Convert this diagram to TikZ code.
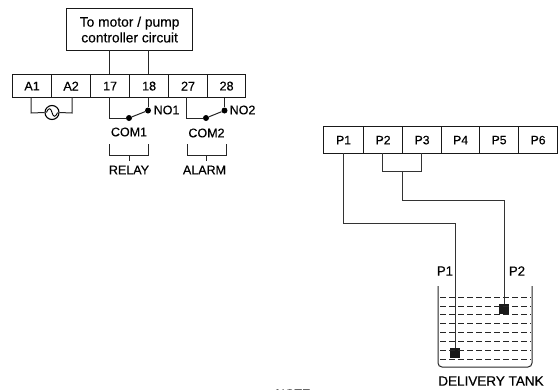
\documentclass[tikz,border=0pt]{standalone}
\usepackage{fontspec}
\setmainfont{Liberation Sans}[RawFeature={embolden=0.35}]
\begin{document}
\begin{tikzpicture}[x=1pt,y=-1pt,
  wire/.style={line width=1pt,draw=black!85},
  thinwire/.style={line width=0.8pt,draw=black!80},
  boxline/.style={draw=black!90,line width=1.2pt},
  term/.style={boxline,minimum height=23pt,inner sep=0pt,anchor=north west,font=\fontsize{12.6}{14}\selectfont},
  lab/.style={inner sep=0pt,font=\fontsize{12.5}{14}\selectfont},
  dotn/.style={circle,fill=black,inner sep=0pt,minimum size=6pt},
  sens/.style={rectangle,fill=black!90,inner sep=0pt,minimum size=10pt},
  tankline/.style={line width=0.7pt,draw=black!85,dash pattern=on 6pt off 3pt}]
\useasboundingbox (0,0) rectangle (558,389);
\clip (0,0) rectangle (558,389);
% controller
\node[boxline,minimum width=126pt,minimum height=42pt,inner sep=0pt,align=center,anchor=north west,font=\fontsize{13.8}{15.7}\selectfont] (ctrl) at (66,8) {To motor / pump\\controller circuit};
% terminals top-left
\node[term,minimum width=39pt] (A1) at (12,74) {A1};
\node[term,minimum width=39pt] (A2) at (51,74) {A2};
\node[term,minimum width=39pt] (t17) at (90,74) {17};
\node[term,minimum width=39pt] (t18) at (129,74) {18};
\node[term,minimum width=39pt] (t27) at (168,74) {27};
\node[term,minimum width=38pt] (t28) at (207,74) {28};
\coordinate (c17) at (109,50); \coordinate (c18) at (148,50);
\draw[wire] (c17) -- (109,74);
\draw[wire] (c18) -- (148,74);
% AC source
\node[circle,draw=black,line width=1.1pt,minimum size=14pt,inner sep=0pt] (ac) at (52,112.5) {};
\draw[line width=0.9pt] (46.5,112.5) .. controls (49,106.5) and (51,108.5) .. (52,112.5) .. controls (53,116.5) and (55,118.5) .. (57.5,112.5);
\draw[wire] (31,97) -- (31,113) -- (ac.west);
\draw[wire] (72,97) -- (72,113) -- (ac.east);
% relay
\node[dotn] (n1) at (148,110.5) {};
\node[dotn] (c1) at (129,118) {};
\draw[wire] (109,97) -- (109,118) -- (c1);
\draw[wire] (t18.south -| n1) -- (n1);
\draw[wire] (c1) -- (n1);
\node[dotn] (n2) at (224.5,110.5) {};
\node[dotn] (c2) at (206,118) {};
\draw[wire] (186,97) -- (186,118) -- (c2);
\draw[wire] (t28.south -| n2) -- (n2);
\draw[wire] (c2) -- (n2);
\node[lab,anchor=west] (no1) at (153.5,110) {NO1};
\node[lab,anchor=west] (no2) at (229.5,110) {NO2};
\node[lab] (com1) at (129,132) {COM1};
\node[lab] (com2) at (206.5,133) {COM2};
\draw[wire] (109,144) -- (109,155) -- (148,155) -- (148,144);
\draw[wire] (129,155) -- (129,161);
\draw[wire] (187,144) -- (187,155) -- (226,155) -- (226,144);
\draw[wire] (206,155) -- (206,161);
\node[lab] (relay) at (129,170) {RELAY};
\node[lab] (alarm) at (204.5,170) {ALARM};
% terminals right
\foreach \n/\x/\w in {1/323/40,2/363/39,3/402/39,4/441/38,5/479/39,6/518/39}{
  \node[term,minimum width=\w pt,minimum height=27pt,font=\fontsize{12.2}{14}\selectfont] (P\n) at (\x,126) {P\n};
}
\draw[thinwire] (343,153) -- (343,223) -- (455,223) -- (455,353);
\draw[thinwire] (382,153) -- (382,171) -- (421,171) -- (421,153);
\draw[thinwire] (402,171) -- (402,200) -- (504,200) -- (504,309);
\node[sens] (s2) at (504,309) {};
\node[sens] (s1) at (455,353) {};
% tank
\draw[line width=1pt,draw=black!85,rounded corners=4pt] (438,286) -- (438,367) -- (532,367) -- (532,286);
\foreach \y in {297,306,314,323,332,341,350,359}{
  \draw[tankline] (440,\y) -- (531,\y);
}
\node[lab,font=\fontsize{13.2}{15}\selectfont] (p1l) at (445,271) {P1};
\node[lab,font=\fontsize{13.2}{15}\selectfont] (p2l) at (517,271) {P2};
\node[lab,font=\fontsize{13.5}{15}\selectfont] (tank) at (491,381) {DELIVERY TANK};
\node[lab,text=black!60] at (293,393.5) {NOTE};
\end{tikzpicture}
\end{document}
